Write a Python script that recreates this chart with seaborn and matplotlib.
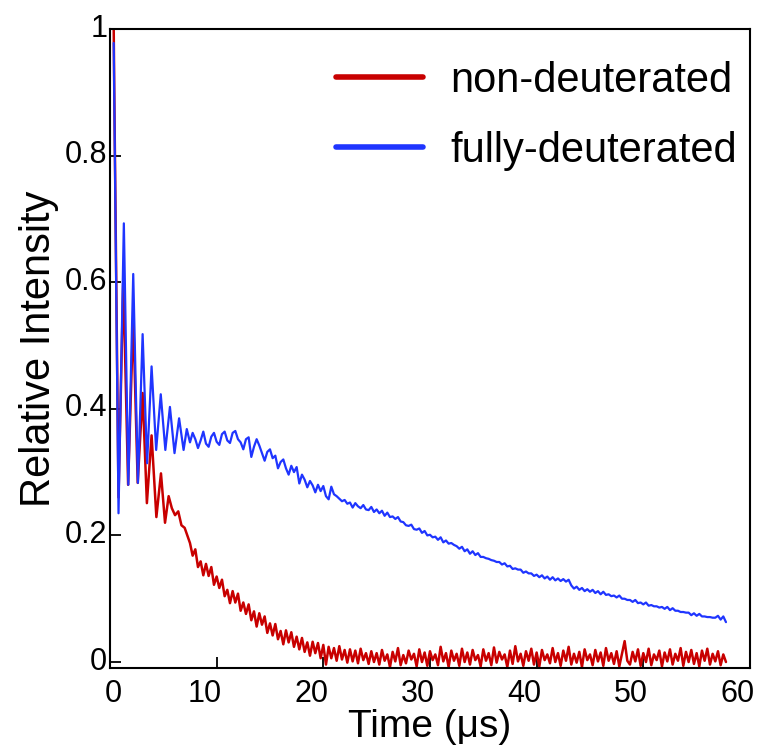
import numpy as np
import pandas as pd
import seaborn as sns
import matplotlib.pyplot as plt
from matplotlib.transforms import ScaledTranslation

t_early_fd = [0.35, 0.80, 1.30, 1.72, 2.18, 2.62, 3.06, 3.48, 3.90, 4.33,
              4.76, 5.19, 5.62, 6.05, 6.48, 6.90, 7.20]
v_early_fd = [0.978, 0.235, 0.693, 0.280, 0.613, 0.283, 0.518, 0.314, 0.467, 0.335,
              0.423, 0.335, 0.403, 0.330, 0.385, 0.335, 0.368]

t_early_nd = [0.35, 0.40, 0.80, 1.25, 1.70, 2.18, 2.60, 3.06, 3.46, 3.90,
              4.35, 4.78, 5.16, 5.50, 5.80, 6.10, 6.40, 6.70, 7.00, 7.25]
v_early_nd = [1.000, 0.904, 0.260, 0.607, 0.280, 0.545, 0.283, 0.425, 0.251, 0.358,
              0.229, 0.298, 0.220, 0.262, 0.243, 0.232, 0.238, 0.216, 0.212, 0.200]

# later part, sampled every 0.25 us from 7.5 to 57.75
t_tail = np.arange(7.5, 58.0, 0.25)
v_tail_fd = [
    0.347, 0.362, 0.352, 0.338, 0.350, 0.364, 0.345, 0.340, 0.356, 0.362,
    0.348, 0.343, 0.360, 0.364, 0.350, 0.346, 0.362, 0.365, 0.352, 0.347,
    0.336, 0.352, 0.355, 0.324, 0.340, 0.352, 0.342, 0.330, 0.318, 0.332,
    0.336, 0.322, 0.326, 0.306, 0.316, 0.320, 0.306, 0.296, 0.310, 0.300,
    0.308, 0.282, 0.296, 0.288, 0.276, 0.286, 0.279, 0.268, 0.280, 0.270,
    0.278, 0.262, 0.257, 0.277, 0.265, 0.262, 0.258, 0.254, 0.256, 0.250,
    0.252, 0.244, 0.251, 0.246, 0.243, 0.248, 0.241, 0.240, 0.245, 0.237,
    0.241, 0.235, 0.239, 0.231, 0.236, 0.229, 0.230, 0.226, 0.229, 0.222,
    0.221, 0.216, 0.215, 0.217, 0.210, 0.209, 0.211, 0.204, 0.207, 0.200,
    0.201, 0.197, 0.198, 0.193, 0.197, 0.189, 0.192, 0.187, 0.188, 0.185,
    0.183, 0.179, 0.182, 0.175, 0.178, 0.171, 0.175, 0.169, 0.172, 0.166,
    0.166, 0.164, 0.163, 0.161, 0.160, 0.158, 0.158, 0.154, 0.156, 0.151,
    0.152, 0.147, 0.148, 0.146, 0.146, 0.141, 0.143, 0.140, 0.140, 0.136,
    0.138, 0.134, 0.137, 0.132, 0.135, 0.130, 0.134, 0.129, 0.132, 0.128,
    0.131, 0.127, 0.130, 0.121, 0.116, 0.119, 0.114, 0.117, 0.112, 0.115,
    0.111, 0.114, 0.109, 0.112, 0.107, 0.111, 0.106, 0.107, 0.104, 0.105,
    0.102, 0.105, 0.100, 0.100, 0.098, 0.098, 0.095, 0.098, 0.093, 0.094,
    0.091, 0.094, 0.089, 0.090, 0.088, 0.088, 0.086, 0.087, 0.084, 0.087,
    0.082, 0.085, 0.081, 0.081, 0.079, 0.079, 0.078, 0.078, 0.074, 0.077,
    0.073, 0.076, 0.072, 0.072, 0.071, 0.071, 0.070, 0.070, 0.073, 0.067,
    0.072, 0.063]
v_tail_nd = [
    0.188, 0.168, 0.178, 0.150, 0.159, 0.137, 0.155, 0.136, 0.150, 0.122,
    0.135, 0.117, 0.130, 0.104, 0.114, 0.093, 0.112, 0.094, 0.108, 0.081,
    0.094, 0.076, 0.091, 0.066, 0.080, 0.056, 0.077, 0.059, 0.072, 0.046,
    0.061, 0.042, 0.060, 0.036, 0.049, 0.028, 0.050, 0.031, 0.047, 0.024,
    0.040, 0.020, 0.038, 0.016, 0.031, 0.010, 0.032, 0.014, 0.030, 0.006,
    0.027, -0.004, 0.024, 0.006, 0.022, 0.002, 0.025, 0.004, 0.019, -0.001,
    0.020, 0.001, 0.018, -0.002, 0.021, 0.003, 0.014, -0.003, 0.017, 0.000,
    0.014, -0.004, 0.019, 0.002, 0.012, -0.008, 0.016, 0.001, 0.022, -0.005,
    0.011, -0.002, 0.018, 0.004, 0.013, -0.007, 0.020, 0.000, 0.015, -0.006,
    0.017, 0.003, 0.012, -0.005, 0.024, 0.001, 0.014, -0.008, 0.018, 0.002,
    0.013, -0.006, 0.021, 0.000, 0.015, -0.004, 0.019, 0.003, 0.011, -0.007,
    0.020, 0.002, 0.014, -0.005, 0.023, -0.001, 0.016, 0.004, 0.012, -0.008,
    0.018, -0.003, 0.025, 0.001, 0.013, -0.006, 0.017, 0.002, 0.021, -0.004,
    0.015, -0.007, 0.019, 0.003, 0.012, -0.002, 0.022, 0.000, 0.014, -0.006,
    0.018, 0.002, 0.024, -0.004, 0.013, -0.001, 0.016, -0.008, 0.020, 0.003,
    0.012, -0.005, 0.019, 0.001, 0.015, -0.006, 0.022, 0.002, 0.014, -0.003,
    0.017, -0.007, 0.013, 0.033, 0.002, -0.004, 0.016, 0.001, 0.020, -0.006,
    0.014, 0.000, 0.021, -0.005, 0.012, 0.003, 0.018, -0.007, 0.015, 0.001,
    0.020, -0.004, 0.013, 0.002, 0.022, -0.006, 0.016, 0.000, 0.019, -0.003,
    0.014, -0.007, 0.018, 0.002, 0.021, -0.004, 0.013, 0.001, 0.017, -0.005,
    0.012, 0.000]

labels = ["non-deuterated", "fully-deuterated"]
colors = ["#c80000", "#1f35ff"]

nd = pd.DataFrame({"t": np.concatenate([t_early_nd, t_tail]),
                   "v": np.concatenate([v_early_nd, v_tail_nd])})
fd = pd.DataFrame({"t": np.concatenate([t_early_fd, t_tail]),
                   "v": np.concatenate([v_early_fd, v_tail_fd])})

sns.set_style("ticks")
plt.rcParams["font.family"] = ["Liberation Sans", "DejaVu Sans"]
plt.rcParams["text.color"] = "black"
plt.rcParams["axes.labelcolor"] = "black"

fig = plt.figure(figsize=(7.59, 7.50), dpi=100)
ax = fig.add_axes([0.1449, 0.1093, 0.8432, 0.852])

sns.lineplot(data=nd, x="t", y="v", sort=False, estimator=None, color=colors[0],
             lw=1.8, label=labels[0], ax=ax)
sns.lineplot(data=fd, x="t", y="v", sort=False, estimator=None, color=colors[1],
             lw=1.6, label=labels[1], ax=ax)

ax.set_xlim(0, 60)
ax.set_ylim(-0.0095, 1.0)
ax.set_xticks([0, 10, 20, 30, 40, 50, 60])
ax.set_xticklabels(["0", "10", "20", "30", "40", "50", "60"])
ax.set_yticks([0, 0.2, 0.4, 0.6, 0.8, 1.0])
ax.set_yticklabels(["0", "0.2", "0.4", "0.6", "0.8", "1"])
ax.tick_params(axis="both", direction="in", length=8, width=1.3,
               labelsize=22, color="black", labelcolor="black")
ax.tick_params(axis="x", pad=8)
ax.tick_params(axis="y", pad=2)
for s in ax.spines.values():
    s.set_linewidth(1.5)
    s.set_color("black")

# tick labels in the original sit a little off their ticks
for i, lab in enumerate(ax.get_xticklabels()):
    dx = 3 / 100 if i == 0 else -12 / 100
    lab.set_transform(lab.get_transform() + ScaledTranslation(dx, 0, fig.dpi_scale_trans))
for lab in ax.get_yticklabels():
    lab.set_transform(lab.get_transform() + ScaledTranslation(0, 4 / 100, fig.dpi_scale_trans))

ax.set_xlabel("Time (μs)", fontsize=28, labelpad=0)
ax.set_ylabel("Relative Intensity", fontsize=30, labelpad=4)

leg = ax.legend(loc="upper right", bbox_to_anchor=(0.98, 0.95), frameon=False,
                fontsize=30, handlelength=2.1, handletextpad=0.65,
                labelspacing=0.72, borderpad=0, borderaxespad=0)
for line in leg.get_lines():
    line.set_linewidth(4)
for txt in leg.get_texts():
    txt.set_color("black")

plt.savefig("out.png", dpi=100)
